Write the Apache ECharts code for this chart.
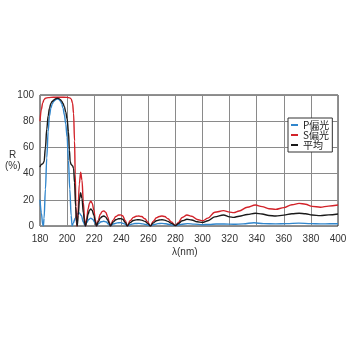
<!DOCTYPE html>
<html>
<head>
<meta charset="utf-8">
<script src="https://cdn.jsdelivr.net/npm/echarts@6/dist/echarts.min.js"></script>
<style>
  html, body { margin: 0; padding: 0; background: #fff; }
  #chart { width: 350px; height: 350px; }
</style>
</head>
<body>
<div id="chart"></div>
<script>
// wavelength ticks
const xTicks = [180, 200, 220, 240, 260, 280, 300, 320, 340, 360, 380, 400]
const seriesNames = ["P偏光", "S偏光", "平均"]

// [λ nm, R %]
const pPol = [
  [180, 20], [181, 10], [182, 1], [182.5, 0], [183, 6], [184, 28], [185, 52],
  [186, 72], [187, 84], [188, 90], [189, 93], [190, 95], [191, 96], [192, 96.8],
  [193, 97], [194, 96.5], [195, 95.5], [196, 93.5], [197, 90], [198, 85],
  [199, 78], [200, 68], [201, 50], [202, 28], [203, 8], [203.7, 0], [204.5, 2],
  [206, 6], [207.5, 9.5], [209, 10], [210.5, 8], [212, 3], [213.3, 0],
  [214.5, 2.5], [216, 5], [217.5, 6], [219, 5], [220.5, 2.5], [221.7, 0],
  [223.5, 2], [225, 3.2], [227, 3.6], [229, 3], [230.5, 1.5], [232, 0],
  [234.5, 1.7], [237, 2.4], [239.5, 2.6], [242, 1.8], [244.5, 0], [247.5, 1.3],
  [250, 1.9], [253, 2], [256, 1.6], [259, 1], [261.5, 0], [264.5, 1.2],
  [267, 1.8], [270, 2], [273, 1.7], [276, 1], [280, 0.3], [284, 1.2],
  [289, 1.8], [294, 1.4], [300, 1], [305, 1.2], [310, 1.5], [316, 1.5],
  [323, 1.3], [330, 1.6], [338, 2.5], [345, 1.8], [354, 1.6], [362, 1.8],
  [371, 2.2], [380, 1.8], [387, 1.6], [394, 1.7], [400, 1.7],
]

const sPol = [
  [180, 80], [181, 89], [182, 94], [183, 96.5], [184, 97.5], [186, 98],
  [190, 98.3], [195, 98.3], [200, 98.2], [202, 97.8], [203, 97], [204, 94],
  [204.8, 86], [205.5, 65], [206, 40], [206.5, 15], [207, 1], [207.3, 0],
  [208, 10], [209, 32], [210, 41], [211, 35], [212, 18], [213, 4], [213.6, 0],
  [214.5, 6], [215.5, 13], [216.5, 17.5], [217.5, 19], [218.5, 17.5],
  [219.8, 12], [220.8, 5], [221.7, 0], [223, 4.5], [224.5, 9], [226, 11.2],
  [227.2, 11.5], [228.5, 10.5], [230, 7], [231, 3.5], [232, 0], [234, 4.5],
  [236, 7.3], [238, 8.4], [239.5, 8.5], [241, 7.8], [243, 4], [244.5, 0],
  [246.5, 4], [249, 6.6], [251, 7.4], [253, 7.6], [255, 7.2], [257.5, 5.5],
  [259.5, 3], [261.5, 0], [263.5, 3.5], [266, 6.3], [268, 7.3], [270, 7.6],
  [272, 7.3], [274.5, 5.5], [277, 3], [280, 0.3], [282, 2.5], [285, 6.5],
  [288.5, 8.4], [292, 7.5], [296, 5], [300, 4], [304, 6], [309, 10.5],
  [315.5, 11.7], [320, 10.6], [323, 10.2], [327, 11.5], [333, 14.3], [339, 16],
  [344, 14.8], [349, 13.2], [354, 12.7], [360, 14], [366, 16.2], [371.3, 17.3],
  [376, 16.6], [381, 15], [387, 14.3], [393, 15.2], [400, 16],
]

const avgPol = [
  [180, 45], [180.5, 46.5], [181, 47], [182, 47.5], [183, 49], [184, 60],
  [185, 74], [186, 84], [187, 90], [188, 93.5], [189, 95], [190, 96],
  [191, 96.8], [192, 97.3], [193, 97.5], [194, 97.2], [195, 96.5], [196, 95.3],
  [197, 93.5], [198, 91], [199, 87], [200, 82], [201, 72], [201.7, 58],
  [202.3, 49], [203, 47], [204, 46], [204.8, 44], [205.5, 33], [206.3, 15],
  [207, 3], [207.5, 0], [208.2, 8], [209.2, 21], [210, 25.5], [211, 21],
  [212, 10], [213, 2], [213.6, 0], [214.5, 4], [215.5, 9], [216.5, 12],
  [217.5, 13], [218.5, 12], [219.8, 8], [220.8, 3.3], [221.7, 0], [223, 3],
  [224.5, 6], [226, 7.3], [227.2, 7.6], [228.5, 6.8], [230, 4.6], [231, 2.3],
  [232, 0], [234, 3], [236, 4.8], [238, 5.5], [239.5, 5.6], [241, 5.1],
  [243, 2.7], [244.5, 0], [246.5, 2.6], [249, 4.2], [251, 4.7], [253, 4.8],
  [255, 4.5], [257.5, 3.5], [259.5, 2], [261.5, 0], [263.5, 2.3], [266, 4],
  [268, 4.6], [270, 4.8], [272, 4.5], [274.5, 3.5], [277, 2], [280, 0.3],
  [282, 1.7], [285, 4], [288.5, 5.1], [292, 4.6], [296, 3.2], [300, 2.8],
  [304, 4], [309, 7], [315.5, 8.4], [320, 7], [323, 6.6], [327, 7.5],
  [333, 8.8], [339, 9.7], [344, 9.2], [349, 8], [354, 7.6], [360, 8.3],
  [366, 9.4], [371.3, 9.7], [376, 9.3], [381, 8.4], [387, 7.9], [393, 8.5],
  [400, 9.2],
]

const colors = ["#3186cc", "#d2232a", "#1a1a1a"]
const font = "'Liberation Sans', Arial, sans-serif"
const jpFont = "'Noto Sans CJK JP', sans-serif"

const chart = echarts.init(document.getElementById("chart"))

const line = (name, data, color) => ({
  name,
  type: "line",
  data,
  smooth: 0.35,
  smoothMonotone: "x",
  showSymbol: false,
  lineStyle: { color, width: 1.4 },
  itemStyle: { color },
  clip: true,
})

chart.setOption({
  animation: false,
  backgroundColor: "#fff",
  grid: {
    left: 40,
    right: 12,
    top: 95,
    bottom: 124,
    show: true,
    borderColor: "#222",
    borderWidth: 1,
  },
  xAxis: {
    type: "value",
    min: xTicks[0],
    max: xTicks[xTicks.length - 1],
    interval: 20,
    axisLine: { show: false },
    axisTick: { show: false },
    axisLabel: { color: "#333", fontSize: 10, fontFamily: font, margin: 8 },
    splitLine: { lineStyle: { color: "#8a8a8a", width: 1 } },
  },
  yAxis: {
    type: "value",
    min: 0,
    max: 100,
    interval: 20,
    axisLine: { show: false },
    axisTick: { show: false },
    axisLabel: { color: "#333", fontSize: 10, fontFamily: font, margin: 6 },
    splitLine: { lineStyle: { color: "#8a8a8a", width: 1 } },
  },
  legend: {
    orient: "vertical",
    left: 288,
    top: 118,
    itemWidth: 7,
    itemHeight: 2,
    itemGap: 0,
    padding: [2, 3, 2, 3],
    backgroundColor: "#fff",
    borderColor: "#333",
    borderWidth: 1,
    borderRadius: 0,
    icon: "rect",
    data: seriesNames,
    textStyle: { fontSize: 10, lineHeight: 10, color: "#222", fontFamily: jpFont },
  },
  graphic: [
    { type: "text", left: 9, top: 150, style: { text: "R", fontSize: 10, fill: "#333", fontFamily: font } },
    { type: "text", left: 5, top: 161, style: { text: "(%)", fontSize: 10, fill: "#333", fontFamily: font } },
    { type: "text", left: 172, top: 247, style: { text: "λ(nm)", fontSize: 10, fill: "#333", fontFamily: font } },
  ],
  series: [
    line(seriesNames[0], pPol, colors[0]),
    line(seriesNames[1], sPol, colors[1]),
    line(seriesNames[2], avgPol, colors[2]),
  ],
})
</script>
</body>
</html>
